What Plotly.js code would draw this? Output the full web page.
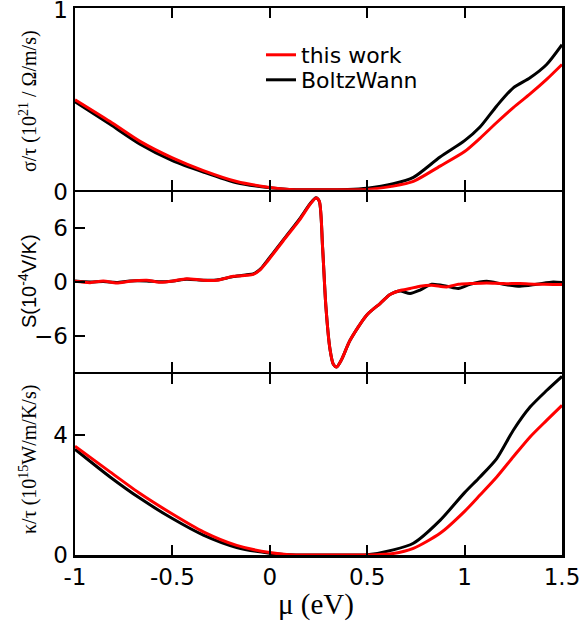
<!DOCTYPE html>
<html>
<head>
<meta charset="utf-8">
<script src="https://cdn.plot.ly/plotly-3.0.1.min.js"></script>
<style>html,body{margin:0;padding:0;background:#fff}#chart{width:583px;height:627px}</style>
</head>
<body>
<div id="chart"></div>
<script>
// ---- data ----
const seriesNames = ["this work", "BoltzWann"];
const xTickVals = [-1, -0.5, 0, 0.5, 1, 1.5];
const xTickText = ["-1", "-0.5", "0", "0.5", "1", "1.5"];

// conductivity sigma/tau (10^21 / Ohm/m/s)
const muSigma = [-1, -0.82, -0.666, -0.5, -0.341, -0.17, 0, 0.1, 0.2, 0.3, 0.4, 0.5, 0.634, 0.737, 0.874, 1.0, 1.079, 1.165, 1.25, 1.336, 1.421, 1.5];
const sigmaThis = [0.495, 0.375, 0.266, 0.175, 0.105, 0.045, 0.013, 0.002, 0, 0, 0, 0.002, 0.02, 0.046, 0.13, 0.21, 0.283, 0.37, 0.452, 0.527, 0.607, 0.689];
const sigmaBW = [0.485, 0.36, 0.251, 0.16, 0.097, 0.038, 0.011, 0.002, 0, 0, 0.001, 0.008, 0.033, 0.068, 0.18, 0.27, 0.345, 0.461, 0.561, 0.616, 0.689, 0.798];

// Seebeck S (10^-4 V/K)
const muS = [-1, -0.923, -0.855, -0.786, -0.718, -0.632, -0.564, -0.495, -0.427, -0.341, -0.273, -0.187, -0.119, -0.085, -0.05, -0.016, 0.069, 0.155, 0.206, 0.237, 0.254, 0.271, 0.288, 0.309, 0.326, 0.343, 0.369, 0.412, 0.497, 0.566, 0.617, 0.668, 0.72, 0.771, 0.831, 0.908, 0.968, 1.028, 1.113, 1.199, 1.284, 1.37, 1.455, 1.5];
const SThis = [0.08, -0.07, 0.11, -0.11, 0.08, 0.19, -0.03, 0.11, 0.37, 0.19, 0.19, 0.63, 0.74, 0.85, 1.35, 2.2, 4.6, 6.98, 8.63, 9.36, 9.0, 3.85, -2.75, -7.5, -9.17, -9.47, -8.62, -6.5, -3.7, -2.4, -1.4, -0.95, -0.73, -0.47, -0.36, -0.55, -0.25, -0.18, -0.11, -0.18, -0.18, -0.25, -0.27, -0.29];
const SBW = [0.1, 0.0, 0.05, -0.05, 0.12, 0.12, 0.02, 0.12, 0.3, 0.2, 0.22, 0.6, 0.8, 0.9, 1.4, 2.3, 4.7, 7.1, 8.7, 9.4, 9.0, 3.85, -2.75, -7.5, -9.17, -9.47, -8.62, -6.5, -3.7, -2.4, -1.4, -1.0, -1.28, -0.9, -0.25, -0.47, -0.73, -0.25, 0.08, -0.25, -0.47, -0.25, 0.0, -0.07];

// thermal conductivity kappa/tau (10^15 W/m/K/s)
const muKappa = [-1, -0.82, -0.666, -0.5, -0.341, -0.17, 0, 0.1, 0.2, 0.3, 0.4, 0.5, 0.634, 0.737, 0.874, 1.0, 1.079, 1.165, 1.25, 1.336, 1.421, 1.5];
const kappaThis = [3.61, 2.76, 2.04, 1.36, 0.77, 0.32, 0.08, 0.01, 0, 0, 0, 0, 0.05, 0.22, 0.72, 1.45, 1.99, 2.59, 3.26, 3.92, 4.47, 4.97];
const kappaBW = [3.51, 2.59, 1.88, 1.21, 0.66, 0.25, 0.06, 0.01, 0, 0, 0, 0.01, 0.17, 0.39, 1.15, 2.07, 2.59, 3.2, 4.14, 4.91, 5.46, 5.93];

// ---- chart ----
const RED = "#ff0000", BLACK = "#000000";
function tr(x, y, name, color, xa, ya, show, lg) {
  return {x: x, y: y, name: name, type: "scatter", mode: "lines",
    line: {color: color, width: 3, shape: "spline", smoothing: 0.7},
    xaxis: xa, yaxis: ya, showlegend: show, legend: lg};
}
const data = [
  tr(muSigma, sigmaBW, seriesNames[1], BLACK, "x", "y", true, "legend2"),
  tr(muSigma, sigmaThis, seriesNames[0], RED, "x", "y", true, "legend"),
  tr(muS, SBW, seriesNames[1], BLACK, "x2", "y2", false, "legend2"),
  tr(muS, SThis, seriesNames[0], RED, "x2", "y2", false, "legend"),
  tr(muKappa, kappaBW, seriesNames[1], BLACK, "x3", "y3", false, "legend2"),
  tr(muKappa, kappaThis, seriesNames[0], RED, "x3", "y3", false, "legend")
];

const LW = 2.5;
const tickFont = {family: "DejaVu Sans, sans-serif", size: 23, color: "#000"};
function xa(anchor, labels) {
  return {anchor: anchor, range: [-1, 1.5], tickvals: xTickVals, ticktext: xTickText,
    showticklabels: labels, ticks: "inside", ticklen: 10, tickwidth: 2, tickcolor: "#000",
    showline: true, linewidth: LW, linecolor: "#000", mirror: "allticks",
    showgrid: false, zeroline: false, tickfont: tickFont, fixedrange: true};
}
function ya(anchor, domain, range, vals, shift) {
  return {anchor: anchor, domain: domain, range: range, tickvals: vals,
    ticks: "inside", ticklen: 10, tickwidth: 2, tickcolor: "#000",
    showline: true, linewidth: LW, linecolor: "#000", mirror: true,
    showgrid: false, zeroline: false, tickfont: tickFont, fixedrange: true,
    ticklabeloverflow: "allow", ticklabelshift: shift};
}
const H = 547, bottomPx = 555;
const py = p => (bottomPx - p) / H;
const px = p => (p - 75) / 487;
const half = LW / 2;
const legFont = {family: "DejaVu Sans, sans-serif", size: 22, color: "#000"};

const layout = {
  width: 583, height: 627,
  margin: {l: 75, r: 21, t: 8, b: 72},
  paper_bgcolor: "#fff", plot_bgcolor: "#fff",
  xaxis: xa("y", false),
  xaxis2: xa("y2", false),
  xaxis3: xa("y3", true),
  yaxis: ya("x", [py(191 - half), 1], [0, 1], [0, 1], 2),
  yaxis2: ya("x2", [py(373 - half), py(191 + half)], [-10, 10], [-6, 0, 6], 0),
  yaxis3: ya("x3", [0, py(373 + half)], [0, 6], [0, 4], 0),
  showlegend: true,
  legend: {x: px(261), y: py(34), xanchor: "left", yanchor: "top",
    bgcolor: "rgba(0,0,0,0)", borderwidth: 0, font: legFont},
  legend2: {x: px(261), y: py(59), xanchor: "left", yanchor: "top",
    bgcolor: "rgba(0,0,0,0)", borderwidth: 0, font: legFont},
  annotations: [
    {text: "σ/τ (10<sup>21</sup> / Ω/m/s)", xref: "paper", yref: "paper", x: px(28), y: py(101),
     textangle: -90, showarrow: false, xanchor: "center", yanchor: "middle",
     font: {family: "Liberation Serif, serif", size: 20, color: "#000"}},
    {text: "S(10<sup>-4</sup>V/K)", xref: "paper", yref: "paper", x: px(27), y: py(281),
     textangle: -90, showarrow: false, xanchor: "center", yanchor: "middle",
     font: {family: "Liberation Sans, Arial, sans-serif", size: 20, color: "#000"}},
    {text: "κ/τ (10<sup>15</sup>W/m/K/s)", xref: "paper", yref: "paper", x: px(28), y: py(460),
     textangle: -90, showarrow: false, xanchor: "center", yanchor: "middle",
     font: {family: "Liberation Serif, serif", size: 20, color: "#000"}},
    {text: "μ (eV)", xref: "paper", yref: "paper", x: px(316), y: py(604),
     showarrow: false, xanchor: "center", yanchor: "middle",
     font: {family: "Liberation Serif, serif", size: 29, color: "#000"}}
  ]
};
Plotly.newPlot("chart", data, layout, {displayModeBar: false, staticPlot: true});
</script>
</body>
</html>
